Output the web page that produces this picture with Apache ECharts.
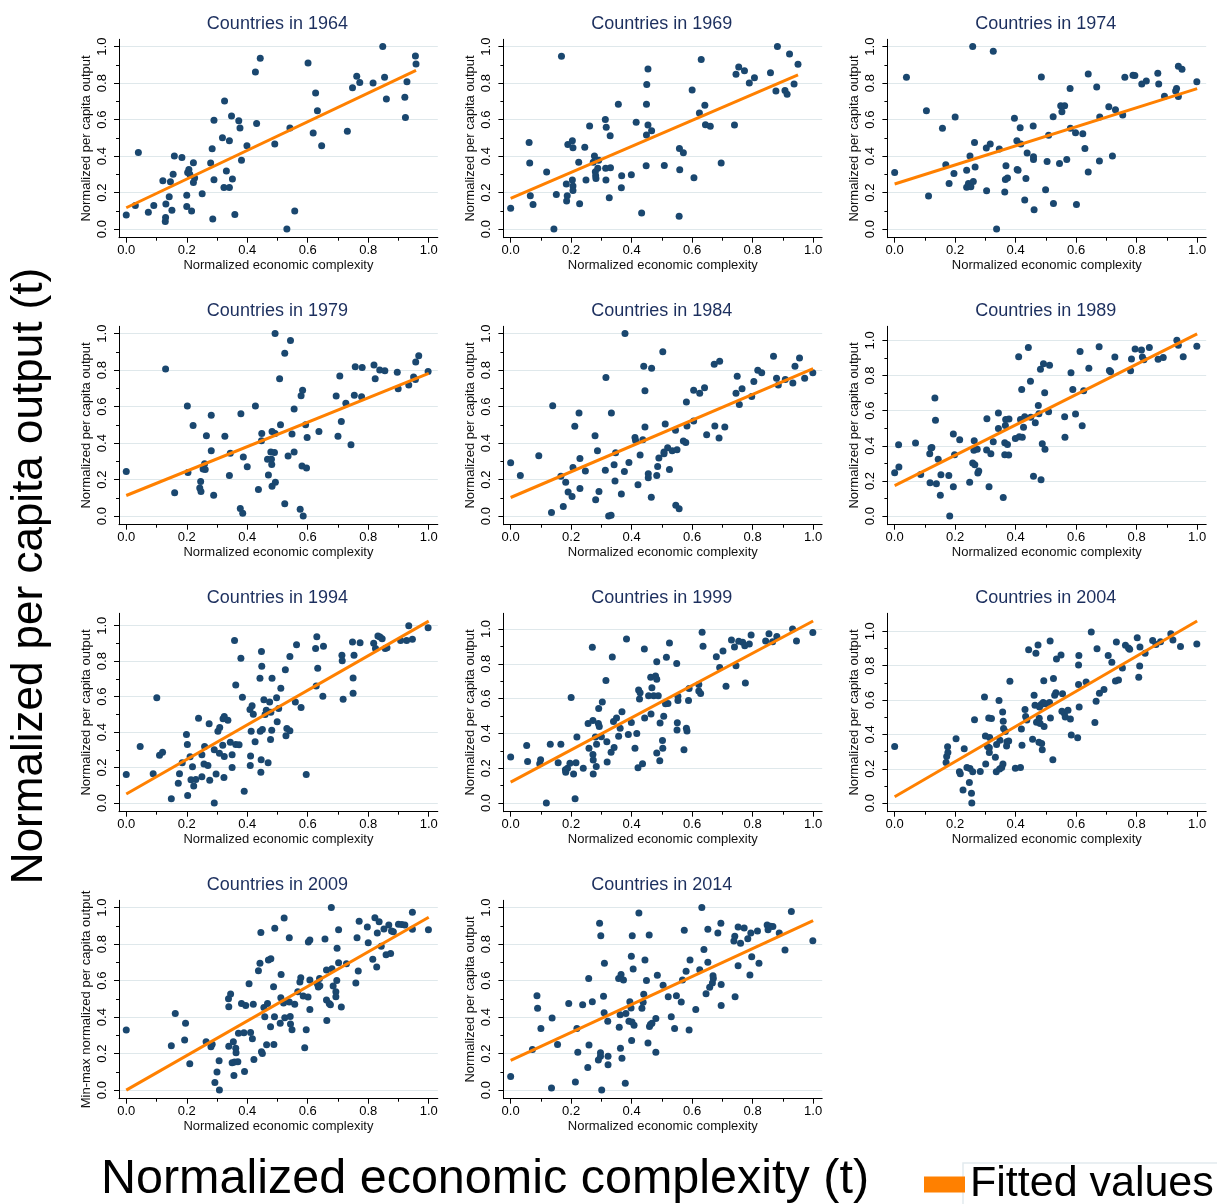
<!DOCTYPE html>
<html>
<head>
<meta charset="utf-8">
<script src="https://cdn.jsdelivr.net/npm/echarts@6.0.0/dist/echarts.min.js"></script>
<style>
html, body { margin: 0; padding: 0; background: #fff; }
#chart { width: 1217px; height: 1204px; }
</style>
</head>
<body>
<div id="chart"></div>
<script>
// panel years, left-to-right, top-to-bottom
const years = ['1964', '1969', '1974', '1979', '1984', '1989', '1994', '1999', '2004', '2009', '2014']

const pts1964 = [[0.00,0.077],[0.03,0.13],[0.04,0.42],[0.073,0.093],[0.091,0.13],[0.121,0.265],[0.13,0.064],[0.129,0.042],[0.131,0.137],[0.142,0.177],[0.146,0.26],[0.151,0.104],[0.155,0.30],[0.159,0.40],[0.184,0.393],[0.20,0.186],[0.20,0.124],[0.203,0.31],[0.207,0.327],[0.21,0.30],[0.216,0.099],[0.222,0.364],[0.222,0.256],[0.226,0.28],[0.251,0.194],[0.279,0.362],[0.284,0.44],[0.286,0.055],[0.29,0.27],[0.29,0.596],[0.318,0.50],[0.323,0.228],[0.325,0.702],[0.331,0.318],[0.341,0.228],[0.341,0.484],[0.348,0.62],[0.351,0.274],[0.359,0.08],[0.372,0.594],[0.376,0.554],[0.381,0.378],[0.399,0.457],[0.427,0.861],[0.431,0.578],[0.443,0.936],[0.491,0.466],[0.531,0.0],[0.541,0.554],[0.557,0.099],[0.601,0.91],[0.618,0.527],[0.626,0.746],[0.632,0.649],[0.646,0.457],[0.731,0.536],[0.748,0.775],[0.762,0.837],[0.772,0.803],[0.816,0.80],[0.848,1.0],[0.854,0.832],[0.86,0.713],[0.921,0.722],[0.923,0.611],[0.928,0.808],[0.956,0.949],[0.958,0.905]]

const pts1969 = [[0.0,0.115],[0.061,0.475],[0.063,0.362],[0.065,0.183],[0.074,0.135],[0.119,0.313],[0.151,0.19],[0.143,0.0],[0.168,0.947],[0.184,0.247],[0.189,0.464],[0.187,0.183],[0.185,0.154],[0.204,0.484],[0.206,0.446],[0.204,0.269],[0.206,0.236],[0.206,0.212],[0.225,0.367],[0.228,0.139],[0.245,0.448],[0.249,0.269],[0.261,0.565],[0.277,0.40],[0.273,0.367],[0.28,0.314],[0.281,0.293],[0.282,0.278],[0.291,0.377],[0.288,0.333],[0.313,0.60],[0.316,0.558],[0.314,0.333],[0.315,0.269],[0.329,0.512],[0.33,0.336],[0.326,0.172],[0.356,0.684],[0.367,0.293],[0.366,0.227],[0.399,0.298],[0.415,0.585],[0.433,0.088],[0.449,0.684],[0.45,0.792],[0.454,0.877],[0.449,0.516],[0.454,0.57],[0.448,0.347],[0.466,0.539],[0.508,0.349],[0.558,0.442],[0.571,0.419],[0.559,0.325],[0.557,0.071],[0.60,0.762],[0.606,0.282],[0.624,0.636],[0.63,0.93],[0.642,0.678],[0.644,0.572],[0.66,0.563],[0.696,0.362],[0.74,0.57],[0.745,0.848],[0.754,0.888],[0.773,0.868],[0.789,0.80],[0.806,0.83],[0.859,0.857],[0.877,0.757],[0.882,1.0],[0.907,0.759],[0.914,0.739],[0.922,0.96],[0.937,0.795],[0.95,0.903]]

const pts1974 = [[0,0.31],[0.039,0.832],[0.105,0.649],[0.112,0.181],[0.158,0.552],[0.169,0.353],[0.18,0.25],[0.2,0.614],[0.196,0.305],[0.238,0.322],[0.238,0.229],[0.244,0.25],[0.249,0.40],[0.252,0.232],[0.258,1.0],[0.26,0.261],[0.264,0.475],[0.266,0.34],[0.303,0.444],[0.304,0.21],[0.316,0.466],[0.326,0.974],[0.346,0.439],[0.337,0.0],[0.364,0.203],[0.366,0.272],[0.368,0.347],[0.373,0.28],[0.396,0.607],[0.404,0.484],[0.405,0.327],[0.408,0.322],[0.415,0.556],[0.417,0.466],[0.434,0.278],[0.438,0.417],[0.43,0.159],[0.458,0.565],[0.459,0.397],[0.459,0.382],[0.461,0.106],[0.485,0.834],[0.499,0.216],[0.504,0.371],[0.509,0.514],[0.525,0.141],[0.524,0.616],[0.545,0.36],[0.549,0.676],[0.553,0.643],[0.562,0.676],[0.569,0.382],[0.58,0.77],[0.581,0.552],[0.598,0.528],[0.601,0.135],[0.622,0.523],[0.629,0.442],[0.64,0.85],[0.64,0.313],[0.668,0.779],[0.678,0.614],[0.677,0.373],[0.708,0.671],[0.72,0.40],[0.73,0.654],[0.754,0.625],[0.761,0.832],[0.788,0.843],[0.794,0.841],[0.817,0.795],[0.832,0.812],[0.87,0.854],[0.873,0.795],[0.892,0.728],[0.929,0.757],[0.932,0.77],[0.938,0.726],[0.938,0.892],[0.95,0.876],[0.999,0.808]]

const pts1979 = [[0,0.245],[0.13,0.806],[0.16,0.128],[0.202,0.603],[0.204,0.239],[0.221,0.497],[0.243,0.154],[0.246,0.19],[0.247,0.135],[0.254,0.258],[0.259,0.287],[0.261,0.256],[0.265,0.44],[0.281,0.552],[0.281,0.358],[0.289,0.115],[0.326,0.437],[0.341,0.223],[0.344,0.344],[0.379,0.561],[0.377,0.042],[0.385,0.016],[0.387,0.324],[0.40,0.271],[0.427,0.603],[0.437,0.146],[0.448,0.452],[0.447,0.413],[0.467,0.311],[0.47,0.225],[0.478,0.351],[0.48,0.311],[0.481,0.283],[0.482,0.464],[0.482,0.163],[0.49,0.349],[0.492,1.0],[0.493,0.186],[0.492,0.452],[0.507,0.753],[0.51,0.501],[0.524,0.892],[0.524,0.068],[0.535,0.329],[0.543,0.962],[0.548,0.45],[0.555,0.587],[0.555,0.351],[0.575,0.038],[0.578,0.66],[0.583,0.689],[0.581,0.274],[0.585,0.0],[0.593,0.501],[0.596,0.263],[0.598,0.431],[0.637,0.463],[0.694,0.658],[0.70,0.437],[0.706,0.768],[0.711,0.519],[0.726,0.618],[0.743,0.391],[0.754,0.662],[0.757,0.819],[0.778,0.654],[0.78,0.814],[0.819,0.828],[0.823,0.753],[0.838,0.80],[0.855,0.797],[0.896,0.788],[0.899,0.698],[0.934,0.718],[0.95,0.762],[0.956,0.748],[0.957,0.845],[0.967,0.878],[0.998,0.792]]

const pts1984 = [[0,0.293],[0.032,0.223],[0.093,0.331],[0.135,0.02],[0.139,0.605],[0.166,0.219],[0.174,0.053],[0.182,0.185],[0.19,0.132],[0.203,0.108],[0.206,0.267],[0.212,0.492],[0.226,0.565],[0.229,0.316],[0.229,0.152],[0.247,0.247],[0.279,0.441],[0.281,0.09],[0.287,0.358],[0.292,0.135],[0.313,0.252],[0.315,0.76],[0.324,0.0],[0.332,0.005],[0.333,0.565],[0.342,0.282],[0.345,0.192],[0.347,0.347],[0.366,0.121],[0.378,1.0],[0.376,0.245],[0.391,0.294],[0.411,0.431],[0.413,0.415],[0.421,0.172],[0.428,0.335],[0.437,0.419],[0.44,0.821],[0.444,0.687],[0.444,0.488],[0.455,0.232],[0.455,0.21],[0.466,0.81],[0.465,0.104],[0.483,0.223],[0.486,0.272],[0.49,0.318],[0.503,0.901],[0.507,0.351],[0.507,0.342],[0.511,0.505],[0.519,0.375],[0.525,0.256],[0.534,0.358],[0.545,0.47],[0.546,0.059],[0.55,0.364],[0.557,0.04],[0.571,0.411],[0.579,0.404],[0.581,0.625],[0.583,0.494],[0.605,0.521],[0.605,0.689],[0.625,0.673],[0.641,0.704],[0.648,0.446],[0.673,0.832],[0.675,0.494],[0.689,0.428],[0.691,0.848],[0.708,0.488],[0.745,0.673],[0.749,0.766],[0.756,0.611],[0.765,0.698],[0.797,0.656],[0.804,0.737],[0.817,0.799],[0.83,0.786],[0.869,0.876],[0.879,0.755],[0.885,0.718],[0.908,0.748],[0.933,0.729],[0.94,0.821],[0.955,0.867],[0.972,0.755],[0.999,0.786]]

const pts1989 = [[0,0.247],[0.013,0.406],[0.014,0.279],[0.069,0.416],[0.086,0.237],[0.116,0.355],[0.12,0.387],[0.123,0.391],[0.117,0.19],[0.133,0.672],[0.135,0.545],[0.138,0.184],[0.144,0.324],[0.153,0.235],[0.151,0.118],[0.179,0.231],[0.182,0.0],[0.194,0.467],[0.194,0.167],[0.198,0.349],[0.215,0.435],[0.248,0.192],[0.258,0.302],[0.263,0.429],[0.262,0.374],[0.265,0.292],[0.273,0.381],[0.275,0.245],[0.278,0.256],[0.305,0.554],[0.304,0.376],[0.312,0.167],[0.318,0.355],[0.326,0.423],[0.343,0.586],[0.343,0.499],[0.359,0.106],[0.364,0.417],[0.364,0.349],[0.366,0.516],[0.367,0.55],[0.373,0.408],[0.377,0.347],[0.378,0.552],[0.399,0.442],[0.41,0.907],[0.412,0.452],[0.416,0.55],[0.42,0.721],[0.422,0.448],[0.426,0.505],[0.43,0.565],[0.442,0.96],[0.449,0.767],[0.45,0.562],[0.465,0.531],[0.475,0.63],[0.477,0.583],[0.482,0.835],[0.484,0.207],[0.459,0.226],[0.488,0.412],[0.492,0.867],[0.496,0.702],[0.497,0.38],[0.509,0.594],[0.512,0.858],[0.562,0.565],[0.563,0.448],[0.583,0.816],[0.589,0.721],[0.598,0.581],[0.613,0.937],[0.62,0.514],[0.625,0.713],[0.642,0.841],[0.676,0.964],[0.71,0.829],[0.714,0.822],[0.728,0.905],[0.78,0.827],[0.783,0.894],[0.795,0.951],[0.816,0.945],[0.819,0.905],[0.824,0.89],[0.842,0.96],[0.871,0.892],[0.888,0.903],[0.933,1.0],[0.938,0.972],[0.954,0.907],[0.999,0.966]]

const pts1994 = [[0,0.161],[0.046,0.319],[0.089,0.165],[0.101,0.593],[0.11,0.27],[0.12,0.287],[0.149,0.024],[0.172,0.111],[0.176,0.165],[0.185,0.227],[0.199,0.386],[0.202,0.33],[0.203,0.043],[0.211,0.261],[0.214,0.131],[0.219,0.205],[0.223,0.096],[0.23,0.133],[0.239,0.478],[0.25,0.272],[0.25,0.148],[0.259,0.319],[0.257,0.22],[0.27,0.212],[0.274,0.447],[0.276,0.128],[0.291,0.30],[0.291,0.0],[0.297,0.163],[0.303,0.405],[0.309,0.426],[0.308,0.281],[0.319,0.326],[0.324,0.263],[0.323,0.144],[0.324,0.488],[0.32,0.475],[0.336,0.467],[0.344,0.343],[0.35,0.272],[0.35,0.20],[0.358,0.917],[0.362,0.666],[0.362,0.33],[0.373,0.328],[0.379,0.816],[0.384,0.597],[0.39,0.066],[0.409,0.527],[0.411,0.265],[0.41,0.212],[0.413,0.405],[0.416,0.548],[0.42,0.501],[0.426,0.345],[0.442,0.704],[0.443,0.405],[0.447,0.855],[0.448,0.771],[0.45,0.415],[0.446,0.244],[0.445,0.173],[0.455,0.582],[0.459,0.499],[0.463,0.523],[0.469,0.227],[0.474,0.57],[0.477,0.358],[0.478,0.512],[0.482,0.704],[0.481,0.411],[0.497,0.593],[0.499,0.458],[0.504,0.533],[0.511,0.647],[0.526,0.752],[0.528,0.379],[0.531,0.42],[0.541,0.827],[0.541,0.407],[0.559,0.57],[0.563,0.893],[0.578,0.538],[0.595,0.161],[0.626,0.871],[0.63,0.938],[0.628,0.66],[0.633,0.76],[0.65,0.602],[0.652,0.884],[0.713,0.833],[0.714,0.803],[0.717,0.585],[0.748,0.908],[0.75,0.705],[0.75,0.619],[0.753,0.833],[0.773,0.904],[0.818,0.901],[0.824,0.871],[0.832,0.942],[0.839,0.936],[0.846,0.927],[0.856,0.872],[0.862,0.876],[0.907,0.916],[0.927,0.917],[0.934,1.0],[0.946,0.923],[0.998,0.989]]

const pts1999 = [[0,0.264],[0.053,0.331],[0.056,0.239],[0.099,0.249],[0.096,0.226],[0.118,0.0],[0.131,0.337],[0.157,0.231],[0.166,0.337],[0.181,0.191],[0.182,0.176],[0.188,0.199],[0.196,0.228],[0.2,0.606],[0.208,0.166],[0.213,0.025],[0.216,0.231],[0.219,0.379],[0.24,0.199],[0.256,0.457],[0.259,0.315],[0.27,0.895],[0.272,0.474],[0.272,0.279],[0.273,0.247],[0.273,0.166],[0.28,0.379],[0.284,0.338],[0.283,0.21],[0.29,0.457],[0.293,0.44],[0.291,0.543],[0.30,0.38],[0.303,0.581],[0.315,0.704],[0.318,0.352],[0.319,0.235],[0.332,0.291],[0.336,0.839],[0.34,0.468],[0.342,0.319],[0.35,0.489],[0.357,0.384],[0.362,0.43],[0.368,0.524],[0.383,0.943],[0.389,0.394],[0.399,0.463],[0.411,0.314],[0.417,0.40],[0.421,0.203],[0.423,0.65],[0.428,0.633],[0.426,0.597],[0.436,0.226],[0.442,0.885],[0.443,0.488],[0.456,0.616],[0.463,0.723],[0.464,0.512],[0.467,0.662],[0.473,0.616],[0.479,0.73],[0.483,0.811],[0.483,0.711],[0.483,0.287],[0.488,0.616],[0.493,0.243],[0.494,0.459],[0.502,0.359],[0.503,0.315],[0.506,0.499],[0.512,0.57],[0.515,0.837],[0.52,0.572],[0.525,0.92],[0.549,0.801],[0.551,0.461],[0.55,0.419],[0.553,0.614],[0.553,0.589],[0.573,0.306],[0.581,0.43],[0.583,0.413],[0.588,0.589],[0.59,0.658],[0.622,0.681],[0.622,0.644],[0.628,0.629],[0.633,0.981],[0.636,0.901],[0.68,0.841],[0.691,0.778],[0.702,0.874],[0.712,0.671],[0.73,0.937],[0.74,0.897],[0.745,0.788],[0.754,0.929],[0.767,0.924],[0.774,0.904],[0.776,0.69],[0.789,0.914],[0.795,0.966],[0.843,0.931],[0.854,0.973],[0.866,0.927],[0.88,0.956],[0.932,1.0],[0.945,0.931],[0.999,0.979]]

const pts2004 = [[0,0.329],[0.17,0.236],[0.172,0.271],[0.175,0.328],[0.176,0.295],[0.203,0.374],[0.214,0.182],[0.217,0.171],[0.226,0.076],[0.23,0.316],[0.239,0.207],[0.247,0.12],[0.249,0.202],[0.254,0.058],[0.255,0.0],[0.258,0.182],[0.264,0.486],[0.283,0.184],[0.297,0.618],[0.30,0.39],[0.301,0.227],[0.307,0.329],[0.311,0.496],[0.313,0.322],[0.313,0.295],[0.314,0.382],[0.32,0.492],[0.333,0.267],[0.336,0.182],[0.337,0.341],[0.345,0.597],[0.347,0.198],[0.354,0.207],[0.348,0.366],[0.357,0.531],[0.359,0.477],[0.36,0.434],[0.358,0.227],[0.366,0.417],[0.37,0.333],[0.371,0.357],[0.377,0.362],[0.381,0.709],[0.399,0.203],[0.416,0.207],[0.419,0.432],[0.421,0.337],[0.431,0.545],[0.433,0.504],[0.437,0.484],[0.443,0.893],[0.456,0.372],[0.461,0.628],[0.464,0.57],[0.467,0.872],[0.469,0.471],[0.474,0.921],[0.477,0.355],[0.478,0.494],[0.479,0.56],[0.481,0.463],[0.484,0.574],[0.486,0.347],[0.488,0.31],[0.491,0.585],[0.493,0.713],[0.494,0.446],[0.498,0.579],[0.512,0.585],[0.514,0.944],[0.515,0.496],[0.523,0.252],[0.525,0.725],[0.529,0.628],[0.533,0.643],[0.535,0.839],[0.55,0.862],[0.555,0.636],[0.553,0.535],[0.561,0.523],[0.564,0.502],[0.573,0.541],[0.581,0.49],[0.584,0.397],[0.605,0.38],[0.608,0.69],[0.608,0.804],[0.609,0.859],[0.61,0.56],[0.633,0.705],[0.65,0.996],[0.662,0.469],[0.666,0.593],[0.669,0.899],[0.677,0.64],[0.692,0.661],[0.706,0.859],[0.718,0.82],[0.73,0.711],[0.74,0.717],[0.733,0.938],[0.753,0.787],[0.763,0.919],[0.773,0.903],[0.777,0.895],[0.802,0.963],[0.807,0.733],[0.81,0.798],[0.811,0.909],[0.828,0.872],[0.853,0.946],[0.864,0.924],[0.879,0.94],[0.913,0.986],[0.92,0.95],[0.945,0.911],[0.999,0.926]]

const pts2009 = [[0,0.329],[0.149,0.243],[0.162,0.42],[0.193,0.274],[0.196,0.367],[0.21,0.144],[0.264,0.265],[0.28,0.238],[0.284,0.252],[0.293,0.042],[0.30,0.099],[0.307,0.161],[0.308,0.0],[0.338,0.501],[0.339,0.457],[0.345,0.527],[0.339,0.241],[0.35,0.15],[0.354,0.265],[0.356,0.08],[0.358,0.154],[0.362,0.229],[0.363,0.205],[0.369,0.155],[0.371,0.311],[0.381,0.474],[0.389,0.314],[0.391,0.102],[0.395,0.464],[0.406,0.583],[0.411,0.316],[0.417,0.282],[0.42,0.47],[0.422,0.168],[0.437,0.654],[0.442,0.695],[0.445,0.863],[0.447,0.21],[0.45,0.201],[0.455,0.452],[0.458,0.402],[0.464,0.249],[0.467,0.475],[0.47,0.713],[0.478,0.72],[0.477,0.347],[0.487,0.567],[0.488,0.25],[0.49,0.402],[0.491,0.887],[0.509,0.367],[0.511,0.506],[0.512,0.633],[0.52,0.477],[0.522,0.943],[0.524,0.397],[0.539,0.835],[0.539,0.483],[0.542,0.404],[0.543,0.362],[0.548,0.331],[0.557,0.47],[0.567,0.539],[0.574,0.592],[0.577,0.616],[0.585,0.516],[0.59,0.232],[0.595,0.331],[0.601,0.51],[0.602,0.812],[0.607,0.823],[0.607,0.603],[0.607,0.442],[0.632,0.581],[0.635,0.565],[0.639,0.611],[0.64,0.572],[0.657,0.828],[0.662,0.658],[0.663,0.382],[0.662,0.494],[0.671,0.475],[0.675,0.468],[0.678,1.0],[0.68,0.665],[0.684,0.57],[0.693,0.539],[0.693,0.512],[0.696,0.601],[0.697,0.777],[0.702,0.879],[0.702,0.698],[0.711,0.455],[0.728,0.693],[0.759,0.587],[0.763,0.835],[0.767,0.653],[0.77,0.925],[0.797,0.894],[0.80,0.808],[0.815,0.717],[0.822,0.945],[0.828,0.675],[0.83,0.861],[0.836,0.923],[0.843,0.788],[0.852,0.883],[0.859,0.742],[0.868,0.905],[0.874,0.748],[0.877,0.872],[0.883,0.868],[0.90,0.909],[0.911,0.907],[0.921,0.905],[0.946,0.974],[0.946,0.881],[0.999,0.879]]

const pts2014 = [[0,0.075],[0.072,0.223],[0.087,0.517],[0.089,0.448],[0.1,0.338],[0.135,0.011],[0.137,0.395],[0.155,0.25],[0.192,0.475],[0.214,0.044],[0.219,0.338],[0.222,0.207],[0.238,0.468],[0.255,0.124],[0.259,0.247],[0.258,0.611],[0.27,0.484],[0.29,0.165],[0.294,0.914],[0.298,0.846],[0.297,0.205],[0.297,0.185],[0.301,0.0],[0.307,0.514],[0.31,0.695],[0.309,0.424],[0.321,0.377],[0.322,0.185],[0.322,0.139],[0.357,0.611],[0.359,0.344],[0.362,0.413],[0.363,0.229],[0.365,0.633],[0.368,0.174],[0.373,0.603],[0.379,0.037],[0.381,0.42],[0.394,0.484],[0.391,0.378],[0.398,0.45],[0.399,0.733],[0.401,0.373],[0.402,0.846],[0.40,0.272],[0.405,0.664],[0.408,0.356],[0.424,0.971],[0.434,0.448],[0.438,0.481],[0.44,0.525],[0.444,0.713],[0.449,0.601],[0.454,0.258],[0.458,0.85],[0.459,0.349],[0.462,0.36],[0.467,0.366],[0.48,0.207],[0.48,0.393],[0.485,0.629],[0.504,0.574],[0.521,0.512],[0.531,0.402],[0.542,0.338],[0.548,0.517],[0.564,0.483],[0.568,0.603],[0.574,0.876],[0.58,0.651],[0.59,0.329],[0.593,0.713],[0.612,0.442],[0.625,0.66],[0.632,1.0],[0.639,0.77],[0.646,0.528],[0.652,0.881],[0.652,0.70],[0.658,0.563],[0.667,0.587],[0.669,0.627],[0.67,0.612],[0.685,0.861],[0.695,0.914],[0.696,0.578],[0.696,0.463],[0.738,0.817],[0.741,0.843],[0.742,0.512],[0.752,0.894],[0.752,0.682],[0.76,0.804],[0.772,0.888],[0.784,0.83],[0.791,0.631],[0.794,0.861],[0.797,0.731],[0.816,0.872],[0.821,0.695],[0.848,0.905],[0.851,0.879],[0.859,0.898],[0.867,0.896],[0.888,0.861],[0.907,0.768],[0.928,0.978],[0.999,0.819]]

// fitted-values line, endpoints
const fit1964 = [[0, 0.117], [0.958, 0.87]]
const fit1969 = [[0, 0.168], [0.95, 0.845]]
const fit1974 = [[0, 0.247], [1.0, 0.77]]
const fit1979 = [[0, 0.113], [1.0, 0.782]]
const fit1984 = [[0, 0.102], [1.0, 0.808]]
const fit1989 = [[0, 0.173], [1.0, 1.037]]
const fit1994 = [[0, 0.051], [1.0, 1.026]]
const fit1999 = [[0, 0.12], [1.0, 1.046]]
const fit2004 = [[0, 0.037], [1.0, 1.06]]
const fit2009 = [[0, 0.0], [1.0, 0.947]]
const fit2014 = [[0, 0.163], [1.0, 0.929]]

const points = [pts1964, pts1969, pts1974, pts1979, pts1984, pts1989, pts1994, pts1999, pts2004, pts2009, pts2014]
const fits = [fit1964, fit1969, fit1974, fit1979, fit1984, fit1989, fit1994, fit1999, fit2004, fit2009, fit2014]

const yTitles = years.map(y => y === '2009' ? 'Min-max normalized per capita output' : 'Normalized per capita output')
const xTitle = 'Normalized economic complexity'

// y scale of each panel (Stata pads the range a little)
const yAxisMax = [1.04, 1.04, 1.04, 1.04, 1.04, 1.08, 1.07, 1.09, 1.105, 1.04, 1.04]
const yAxisMin = [-0.047, -0.047, -0.047, -0.047, -0.047, -0.049, -0.049, -0.05, -0.05, -0.047, -0.047]
const xAxisMin = -0.024
const xAxisMax = 1.03

const majorTicks = [0, 0.2, 0.4, 0.6, 0.8, 1.0]
const minorTicks = [0.1, 0.3, 0.5, 0.7, 0.9]

const FONT = 'Liberation Sans, Arial, Helvetica, sans-serif'
const NAVY = '#1a476f'
const ORANGE = '#ff8000'

const colLeft = [119, 503.4, 887.4]
const rowTop = [39.3, 326.3, 613.3, 900.3]
const gridW = 318.8
const gridH = 198.4

const chart = echarts.init(document.getElementById('chart'), null, {renderer: 'canvas', width: 1217, height: 1204})

const grid = []
const xAxis = []
const yAxis = []
const series = []
const graphic = []

const fmt = v => v.toFixed(1)

years.forEach((year, i) => {
  const left = colLeft[i % 3]
  const top = rowTop[Math.floor(i / 3)]
  grid.push({left, top, width: gridW, height: gridH, containLabel: false})

  // main x axis + overlay for the minor ticks
  xAxis.push({
    gridIndex: i, type: 'value', min: xAxisMin, max: xAxisMax, position: 'bottom',
    axisLine: {show: true, onZero: false, lineStyle: {color: '#000', width: 1}},
    axisTick: {show: true, length: 5, customValues: majorTicks, lineStyle: {color: '#000', width: 1}},
    axisLabel: {customValues: majorTicks, formatter: fmt, fontSize: 13, color: '#000', margin: 6, fontFamily: FONT},
    splitLine: {show: false},
    name: xTitle, nameLocation: 'middle', nameGap: 21,
    nameTextStyle: {fontSize: 13, color: '#111', fontFamily: FONT},
  })
  xAxis.push({
    gridIndex: i, type: 'value', min: xAxisMin, max: xAxisMax, position: 'bottom',
    axisLine: {show: false, onZero: false},
    axisTick: {show: true, length: 3, customValues: minorTicks, lineStyle: {color: '#000', width: 1}},
    axisLabel: {show: false}, splitLine: {show: false},
  })

  yAxis.push({
    gridIndex: i, type: 'value', min: yAxisMin[i], max: yAxisMax[i], position: 'left',
    axisLine: {show: true, onZero: false, lineStyle: {color: '#000', width: 1}},
    axisTick: {show: true, length: 5, customValues: majorTicks, lineStyle: {color: '#000', width: 1}},
    axisLabel: {customValues: majorTicks, formatter: fmt, rotate: 90, fontSize: 13, color: '#000', margin: 10, fontFamily: FONT},
    splitLine: {show: true, lineStyle: {color: '#dfe8eb', width: 1}},
    name: yTitles[i], nameLocation: 'middle', nameGap: 26,
    nameTextStyle: {fontSize: 13, color: '#111', fontFamily: FONT},
  })
  yAxis.push({
    gridIndex: i, type: 'value', min: yAxisMin[i], max: yAxisMax[i], position: 'left',
    axisLine: {show: false, onZero: false},
    axisTick: {show: true, length: 3, customValues: minorTicks, lineStyle: {color: '#000', width: 1}},
    axisLabel: {show: false}, splitLine: {show: false},
  })

  series.push({
    type: 'scatter', name: 'Countries ' + year,
    xAxisIndex: 2 * i, yAxisIndex: 2 * i,
    data: points[i], symbolSize: 7,
    itemStyle: {color: NAVY, opacity: 1},
    silent: true, z: 2,
  })
  series.push({
    type: 'line', name: 'Fitted values',
    xAxisIndex: 2 * i, yAxisIndex: 2 * i,
    data: fits[i], symbol: 'none', smooth: false,
    lineStyle: {color: ORANGE, width: 3},
    itemStyle: {color: ORANGE},
    silent: true, z: 3,
  })

  graphic.push({
    type: 'text', x: left + gridW / 2 - 1, y: top - 15,
    style: {text: 'Countries in ' + year, font: '18px ' + FONT, fill: '#1c2f5e', align: 'center', verticalAlign: 'middle'},
  })
})

// outer axis titles
graphic.push({
  type: 'text', x: 30, y: 576, rotation: Math.PI / 2,
  style: {text: 'Normalized per capita output (t)', font: '44px ' + FONT, fill: '#000', align: 'center', verticalAlign: 'middle'},
})
graphic.push({
  type: 'text', x: 485, y: 1180,
  style: {text: 'Normalized economic complexity (t)', font: '48.5px ' + FONT, fill: '#000', align: 'center', verticalAlign: 'middle'},
})
// faint frame Stata leaves around the legend key text
graphic.push({
  type: 'rect', shape: {x: 963, y: 1163, width: 260, height: 50},
  style: {fill: 'none', stroke: '#e2eaee', lineWidth: 1.5},
})

chart.setOption({
  backgroundColor: '#fff',
  animation: false,
  textStyle: {fontFamily: FONT},
  grid, xAxis, yAxis, series, graphic,
  legend: {
    data: ['Fitted values'], left: 919, top: 1158,
    icon: 'rect', itemWidth: 41, itemHeight: 16,
    selectedMode: false,
    textStyle: {fontSize: 43, color: '#000', fontFamily: FONT},
  },
})
</script>
</body>
</html>
